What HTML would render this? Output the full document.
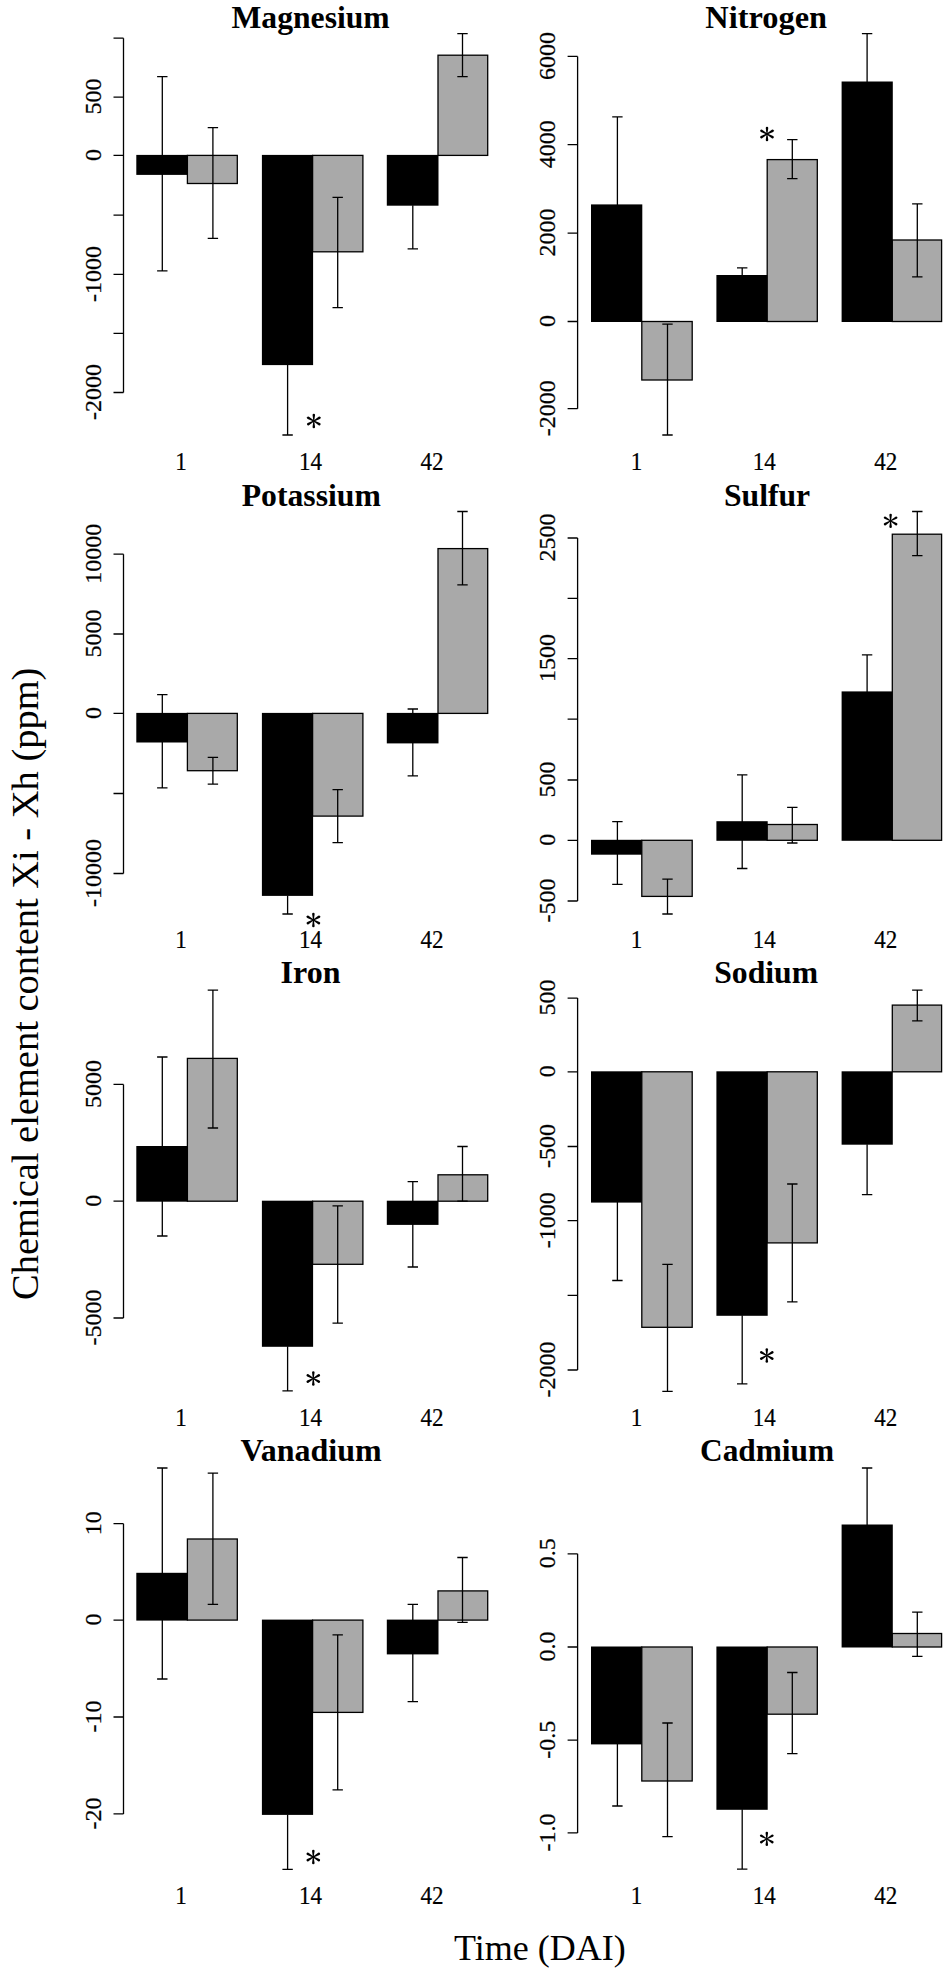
<!DOCTYPE html>
<html><head><meta charset="utf-8"><title>Chemical element content</title>
<style>html,body{margin:0;padding:0;background:#fff}svg{display:block}text{font-family:"Liberation Serif",serif;fill:#000}.t{font-size:32px;font-weight:bold;text-anchor:middle}.y{font-size:24px;text-anchor:middle;stroke:#000;stroke-width:.25}.x{font-size:24.3px;text-anchor:middle;stroke:#000;stroke-width:.2}.s{font-size:40px;text-anchor:middle}.l{stroke:#000;stroke-width:1;fill:none;shape-rendering:crispEdges}.e{stroke:#000;stroke-width:1.3;fill:none}</style></head><body>
<svg width="949" height="1980" viewBox="0 0 949 1980">
<rect width="949" height="1980" fill="#fff"/>
<defs><g id="st"><path d="M-.45 0L-1.25-5.9A1.25 1.3 0 1 1 1.25-5.9L.45 0Z" transform="rotate(0)"/><path d="M-.45 0L-1.25-5.9A1.25 1.3 0 1 1 1.25-5.9L.45 0Z" transform="rotate(60) scale(1 1.07)"/><path d="M-.45 0L-1.25-5.9A1.25 1.3 0 1 1 1.25-5.9L.45 0Z" transform="rotate(120) scale(1 1.07)"/><path d="M-.45 0L-1.25-5.9A1.25 1.3 0 1 1 1.25-5.9L.45 0Z" transform="rotate(180)"/><path d="M-.45 0L-1.25-5.9A1.25 1.3 0 1 1 1.25-5.9L.45 0Z" transform="rotate(240) scale(1 1.07)"/><path d="M-.45 0L-1.25-5.9A1.25 1.3 0 1 1 1.25-5.9L.45 0Z" transform="rotate(300) scale(1 1.07)"/></g></defs>
<g>
<text class="t" transform="translate(310.60 27.5) scale(0.9890 1)">Magnesium</text>
<path class="e" d="M123.5 38.2V392.5M123.5 38.2h-10M123.5 97.1h-10M123.5 155.4h-10M123.5 215.2h-10M123.5 274.4h-10M123.5 333.4h-10M123.5 392.5h-10"/>
<text class="y" transform="translate(100.7 96.6) rotate(-90)">500</text>
<text class="y" transform="translate(100.7 154.9) rotate(-90)">0</text>
<text class="y" transform="translate(100.7 273.9) rotate(-90)">-1000</text>
<text class="y" transform="translate(100.7 392.0) rotate(-90)">-2000</text>
<rect x="136.3" y="154.9" width="51.6" height="20.0" fill="#000"/>
<rect x="187.4" y="155.4" width="49.9" height="28.1" fill="#a9a9a9" stroke="#000" stroke-width="1.3"/>
<rect x="261.9" y="154.9" width="51.2" height="210.2" fill="#000"/>
<rect x="312.6" y="155.4" width="50.3" height="96.4" fill="#a9a9a9" stroke="#000" stroke-width="1.3"/>
<rect x="386.8" y="154.9" width="51.7" height="50.8" fill="#000"/>
<rect x="438.0" y="55.2" width="49.7" height="100.2" fill="#a9a9a9" stroke="#000" stroke-width="1.3"/>
<path class="e" d="M162.3 76.6V270.8M157.1 76.6h10.4M157.1 270.8h10.4M212.9 127.6V238.3M207.7 127.6h10.4M207.7 238.3h10.4M287.6 364.6V435.0M282.4 435.0h10.4M337.7 197.3V307.7M332.5 197.3h10.4M332.5 307.7h10.4M412.8 205.2V248.9M407.6 248.9h10.4M462.5 33.7V76.6M457.3 33.7h10.4M457.3 76.6h10.4"/>
<use href="#st" x="313.8" y="421.0"/>
<text class="x" transform="translate(181.0 470.3) scale(0.95 1)">1</text>
<text class="x" transform="translate(310.5 470.3) scale(0.95 1)">14</text>
<text class="x" transform="translate(432.0 470.3) scale(0.95 1)">42</text>
</g>
<g>
<text class="t" transform="translate(766.25 27.6) scale(1.0126 1)">Nitrogen</text>
<path class="e" d="M577.6 56.4V408.7M577.6 56.4h-10M577.6 144.7h-10M577.6 233.1h-10M577.6 321.5h-10M577.6 408.7h-10"/>
<text class="y" transform="translate(554.8 55.9) rotate(-90)">6000</text>
<text class="y" transform="translate(554.8 144.2) rotate(-90)">4000</text>
<text class="y" transform="translate(554.8 232.6) rotate(-90)">2000</text>
<text class="y" transform="translate(554.8 321.0) rotate(-90)">0</text>
<text class="y" transform="translate(554.8 408.2) rotate(-90)">-2000</text>
<rect x="591.0" y="204.4" width="51.3" height="117.6" fill="#000"/>
<rect x="641.8" y="321.5" width="50.4" height="58.5" fill="#a9a9a9" stroke="#000" stroke-width="1.3"/>
<rect x="716.4" y="275.0" width="51.3" height="47.0" fill="#000"/>
<rect x="767.2" y="159.6" width="50.1" height="161.9" fill="#a9a9a9" stroke="#000" stroke-width="1.3"/>
<rect x="841.6" y="81.5" width="51.2" height="240.5" fill="#000"/>
<rect x="892.3" y="240.0" width="49.3" height="81.5" fill="#a9a9a9" stroke="#000" stroke-width="1.3"/>
<path class="e" d="M617.4 116.8V204.9M612.2 116.8h10.4M667.5 324.2V435.0M662.3 324.2h10.4M662.3 435.0h10.4M742.2 267.9V275.5M737.0 267.9h10.4M792.3 139.6V178.6M787.1 139.6h10.4M787.1 178.6h10.4M867.1 33.7V82.0M861.9 33.7h10.4M917.3 203.9V276.9M912.1 203.9h10.4M912.1 276.9h10.4"/>
<use href="#st" x="767.0" y="134.0"/>
<text class="x" transform="translate(636.4 470.3) scale(0.95 1)">1</text>
<text class="x" transform="translate(764.3 470.3) scale(0.95 1)">14</text>
<text class="x" transform="translate(885.8 470.3) scale(0.95 1)">42</text>
</g>
<g>
<text class="t" transform="translate(311.30 505.5) scale(0.9910 1)">Potassium</text>
<path class="e" d="M123.5 554.2V873.5M123.5 554.2h-10M123.5 634.0h-10M123.5 713.4h-10M123.5 793.5h-10M123.5 873.5h-10"/>
<text class="y" transform="translate(100.7 553.7) rotate(-90)">10000</text>
<text class="y" transform="translate(100.7 633.5) rotate(-90)">5000</text>
<text class="y" transform="translate(100.7 712.9) rotate(-90)">0</text>
<text class="y" transform="translate(100.7 873.0) rotate(-90)">-10000</text>
<rect x="136.3" y="712.9" width="51.6" height="29.6" fill="#000"/>
<rect x="187.4" y="713.4" width="49.9" height="57.3" fill="#a9a9a9" stroke="#000" stroke-width="1.3"/>
<rect x="261.9" y="712.9" width="51.2" height="183.0" fill="#000"/>
<rect x="312.6" y="713.4" width="50.3" height="102.7" fill="#a9a9a9" stroke="#000" stroke-width="1.3"/>
<rect x="386.8" y="712.9" width="51.7" height="30.5" fill="#000"/>
<rect x="438.0" y="548.6" width="49.7" height="164.8" fill="#a9a9a9" stroke="#000" stroke-width="1.3"/>
<path class="e" d="M162.3 694.7V787.9M157.1 694.7h10.4M157.1 787.9h10.4M212.9 757.3V784.2M207.7 757.3h10.4M207.7 784.2h10.4M287.6 895.4V914.0M282.4 914.0h10.4M337.7 789.7V842.6M332.5 789.7h10.4M332.5 842.6h10.4M412.8 709.0V775.8M407.6 709.0h10.4M407.6 775.8h10.4M462.5 511.5V584.8M457.3 511.5h10.4M457.3 584.8h10.4"/>
<use href="#st" x="313.4" y="920.0"/>
<text class="x" transform="translate(181.0 948.3) scale(0.95 1)">1</text>
<text class="x" transform="translate(310.5 948.3) scale(0.95 1)">14</text>
<text class="x" transform="translate(432.0 948.3) scale(0.95 1)">42</text>
</g>
<g>
<text class="t" transform="translate(767.05 505.5) scale(0.9900 1)">Sulfur</text>
<path class="e" d="M577.6 538.0V901.0M577.6 538.0h-10M577.6 598.3h-10M577.6 658.6h-10M577.6 719.2h-10M577.6 780.0h-10M577.6 840.3h-10M577.6 901.0h-10"/>
<text class="y" transform="translate(554.8 537.5) rotate(-90)">2500</text>
<text class="y" transform="translate(554.8 658.1) rotate(-90)">1500</text>
<text class="y" transform="translate(554.8 779.5) rotate(-90)">500</text>
<text class="y" transform="translate(554.8 839.8) rotate(-90)">0</text>
<text class="y" transform="translate(554.8 900.5) rotate(-90)">-500</text>
<rect x="591.0" y="839.8" width="51.3" height="14.9" fill="#000"/>
<rect x="641.8" y="840.3" width="50.4" height="56.1" fill="#a9a9a9" stroke="#000" stroke-width="1.3"/>
<rect x="716.4" y="821.2" width="51.3" height="19.6" fill="#000"/>
<rect x="767.2" y="824.5" width="50.1" height="15.8" fill="#a9a9a9" stroke="#000" stroke-width="1.3"/>
<rect x="841.6" y="691.4" width="51.2" height="149.4" fill="#000"/>
<rect x="892.3" y="534.2" width="49.3" height="306.1" fill="#a9a9a9" stroke="#000" stroke-width="1.3"/>
<path class="e" d="M617.4 821.7V884.3M612.2 821.7h10.4M612.2 884.3h10.4M667.5 879.2V914.0M662.3 879.2h10.4M662.3 914.0h10.4M742.2 774.9V868.5M737.0 774.9h10.4M737.0 868.5h10.4M792.3 807.3V843.0M787.1 807.3h10.4M787.1 843.0h10.4M867.1 654.8V691.9M861.9 654.8h10.4M917.3 511.5V555.6M912.1 511.5h10.4M912.1 555.6h10.4"/>
<use href="#st" x="890.6" y="520.9"/>
<text class="x" transform="translate(636.4 948.3) scale(0.95 1)">1</text>
<text class="x" transform="translate(764.3 948.3) scale(0.95 1)">14</text>
<text class="x" transform="translate(885.8 948.3) scale(0.95 1)">42</text>
</g>
<g>
<text class="t" transform="translate(310.55 982.5) scale(1.0000 1)">Iron</text>
<path class="e" d="M123.5 1084.4V1318.0M123.5 1084.4h-10M123.5 1201.2h-10M123.5 1318.0h-10"/>
<text class="y" transform="translate(100.7 1083.9) rotate(-90)">5000</text>
<text class="y" transform="translate(100.7 1200.7) rotate(-90)">0</text>
<text class="y" transform="translate(100.7 1317.5) rotate(-90)">-5000</text>
<rect x="136.3" y="1146.0" width="51.6" height="55.7" fill="#000"/>
<rect x="187.4" y="1058.4" width="49.9" height="142.8" fill="#a9a9a9" stroke="#000" stroke-width="1.3"/>
<rect x="261.9" y="1200.7" width="51.2" height="146.1" fill="#000"/>
<rect x="312.6" y="1201.2" width="50.3" height="63.1" fill="#a9a9a9" stroke="#000" stroke-width="1.3"/>
<rect x="386.8" y="1200.7" width="51.7" height="24.2" fill="#000"/>
<rect x="438.0" y="1174.8" width="49.7" height="26.4" fill="#a9a9a9" stroke="#000" stroke-width="1.3"/>
<path class="e" d="M162.3 1057.0V1236.0M157.1 1057.0h10.4M157.1 1236.0h10.4M212.9 990.2V1128.0M207.7 990.2h10.4M207.7 1128.0h10.4M287.6 1346.3V1390.8M282.4 1390.8h10.4M337.7 1205.8V1323.1M332.5 1205.8h10.4M332.5 1323.1h10.4M412.8 1181.7V1267.0M407.6 1181.7h10.4M407.6 1267.0h10.4M462.5 1146.5V1201.2M457.3 1146.5h10.4M457.3 1201.2h10.4"/>
<use href="#st" x="313.3" y="1378.5"/>
<text class="x" transform="translate(181.0 1426.3) scale(0.95 1)">1</text>
<text class="x" transform="translate(310.5 1426.3) scale(0.95 1)">14</text>
<text class="x" transform="translate(432.0 1426.3) scale(0.95 1)">42</text>
</g>
<g>
<text class="t" transform="translate(766.15 982.5) scale(0.9900 1)">Sodium</text>
<path class="e" d="M577.6 998.1V1370.0M577.6 998.1h-10M577.6 1071.8h-10M577.6 1146.5h-10M577.6 1220.7h-10M577.6 1295.3h-10M577.6 1370.0h-10"/>
<text class="y" transform="translate(554.8 997.6) rotate(-90)">500</text>
<text class="y" transform="translate(554.8 1071.3) rotate(-90)">0</text>
<text class="y" transform="translate(554.8 1146.0) rotate(-90)">-500</text>
<text class="y" transform="translate(554.8 1220.2) rotate(-90)">-1000</text>
<text class="y" transform="translate(554.8 1369.5) rotate(-90)">-2000</text>
<rect x="591.0" y="1071.3" width="51.3" height="131.3" fill="#000"/>
<rect x="641.8" y="1071.8" width="50.4" height="255.5" fill="#a9a9a9" stroke="#000" stroke-width="1.3"/>
<rect x="716.4" y="1071.3" width="51.3" height="244.5" fill="#000"/>
<rect x="767.2" y="1071.8" width="50.1" height="171.1" fill="#a9a9a9" stroke="#000" stroke-width="1.3"/>
<rect x="841.6" y="1071.3" width="51.2" height="73.4" fill="#000"/>
<rect x="892.3" y="1005.1" width="49.3" height="66.7" fill="#a9a9a9" stroke="#000" stroke-width="1.3"/>
<path class="e" d="M617.4 1202.1V1280.5M612.2 1280.5h10.4M667.5 1264.3V1391.3M662.3 1264.3h10.4M662.3 1391.3h10.4M742.2 1315.3V1383.9M737.0 1383.9h10.4M792.3 1184.0V1301.8M787.1 1184.0h10.4M787.1 1301.8h10.4M867.1 1144.2V1194.7M861.9 1194.7h10.4M917.3 990.2V1020.8M912.1 990.2h10.4M912.1 1020.8h10.4"/>
<use href="#st" x="766.8" y="1355.5"/>
<text class="x" transform="translate(636.4 1426.3) scale(0.95 1)">1</text>
<text class="x" transform="translate(764.3 1426.3) scale(0.95 1)">14</text>
<text class="x" transform="translate(885.8 1426.3) scale(0.95 1)">42</text>
</g>
<g>
<text class="t" transform="translate(311.10 1460.5) scale(1.0000 1)">Vanadium</text>
<path class="e" d="M123.5 1523.7V1813.9M123.5 1523.7h-10M123.5 1620.1h-10M123.5 1717.0h-10M123.5 1813.9h-10"/>
<text class="y" transform="translate(100.7 1523.2) rotate(-90)">10</text>
<text class="y" transform="translate(100.7 1619.6) rotate(-90)">0</text>
<text class="y" transform="translate(100.7 1716.5) rotate(-90)">-10</text>
<text class="y" transform="translate(100.7 1813.4) rotate(-90)">-20</text>
<rect x="136.3" y="1572.8" width="51.6" height="47.8" fill="#000"/>
<rect x="187.4" y="1539.0" width="49.9" height="81.1" fill="#a9a9a9" stroke="#000" stroke-width="1.3"/>
<rect x="261.9" y="1619.6" width="51.2" height="195.3" fill="#000"/>
<rect x="312.6" y="1620.1" width="50.3" height="92.3" fill="#a9a9a9" stroke="#000" stroke-width="1.3"/>
<rect x="386.8" y="1619.6" width="51.7" height="34.8" fill="#000"/>
<rect x="438.0" y="1590.9" width="49.7" height="29.2" fill="#a9a9a9" stroke="#000" stroke-width="1.3"/>
<path class="e" d="M162.3 1468.0V1679.0M157.1 1468.0h10.4M157.1 1679.0h10.4M212.9 1473.1V1604.3M207.7 1473.1h10.4M207.7 1604.3h10.4M287.6 1814.4V1869.4M282.4 1869.4h10.4M337.7 1634.9V1789.8M332.5 1634.9h10.4M332.5 1789.8h10.4M412.8 1604.3V1701.7M407.6 1604.3h10.4M407.6 1701.7h10.4M462.5 1557.5V1622.4M457.3 1557.5h10.4M457.3 1622.4h10.4"/>
<use href="#st" x="313.3" y="1857.0"/>
<text class="x" transform="translate(181.0 1904.3) scale(0.95 1)">1</text>
<text class="x" transform="translate(310.5 1904.3) scale(0.95 1)">14</text>
<text class="x" transform="translate(432.0 1904.3) scale(0.95 1)">42</text>
</g>
<g>
<text class="t" transform="translate(767.05 1460.5) scale(0.9800 1)">Cadmium</text>
<path class="e" d="M577.6 1553.8V1832.9M577.6 1553.8h-10M577.6 1647.0h-10M577.6 1740.2h-10M577.6 1832.9h-10"/>
<text class="y" transform="translate(554.8 1553.3) rotate(-90)">0.5</text>
<text class="y" transform="translate(554.8 1646.5) rotate(-90)">0.0</text>
<text class="y" transform="translate(554.8 1739.7) rotate(-90)">-0.5</text>
<text class="y" transform="translate(554.8 1832.4) rotate(-90)">-1.0</text>
<rect x="591.0" y="1646.5" width="51.3" height="97.9" fill="#000"/>
<rect x="641.8" y="1647.0" width="50.4" height="134.0" fill="#a9a9a9" stroke="#000" stroke-width="1.3"/>
<rect x="716.4" y="1646.5" width="51.3" height="163.3" fill="#000"/>
<rect x="767.2" y="1647.0" width="50.1" height="67.2" fill="#a9a9a9" stroke="#000" stroke-width="1.3"/>
<rect x="841.6" y="1524.5" width="51.2" height="123.0" fill="#000"/>
<rect x="892.3" y="1633.5" width="49.3" height="13.5" fill="#a9a9a9" stroke="#000" stroke-width="1.3"/>
<path class="e" d="M617.4 1743.9V1806.0M612.2 1806.0h10.4M667.5 1723.0V1836.6M662.3 1723.0h10.4M662.3 1836.6h10.4M742.2 1809.3V1869.1M737.0 1869.1h10.4M792.3 1672.5V1753.6M787.1 1672.5h10.4M787.1 1753.6h10.4M867.1 1468.0V1525.0M861.9 1468.0h10.4M917.3 1612.2V1656.3M912.1 1612.2h10.4M912.1 1656.3h10.4"/>
<use href="#st" x="766.8" y="1838.9"/>
<text class="x" transform="translate(636.4 1904.3) scale(0.95 1)">1</text>
<text class="x" transform="translate(764.3 1904.3) scale(0.95 1)">14</text>
<text class="x" transform="translate(885.8 1904.3) scale(0.95 1)">42</text>
</g>
<text transform="translate(37.6 1299.9) rotate(-90)" style="font-size:38.5px" textLength="632.3" lengthAdjust="spacingAndGlyphs">Chemical element content Xi - Xh (ppm)</text>
<text transform="translate(539.9 1960) scale(1.011 1)" style="font-size:35.6px;text-anchor:middle">Time (DAI)</text>
</svg></body></html>
